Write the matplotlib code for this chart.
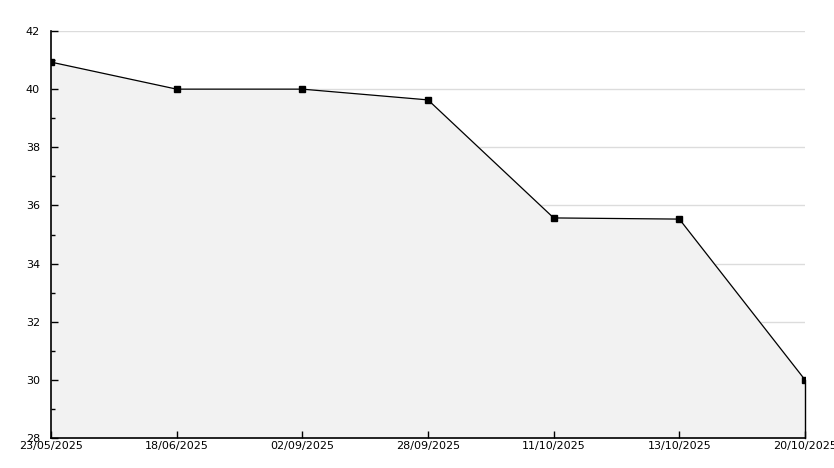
import matplotlib
matplotlib.use("Agg")
import matplotlib.pyplot as plt
from matplotlib.ticker import MultipleLocator

dates = ["23/05/2025", "18/06/2025", "02/09/2025", "28/09/2025",
         "11/10/2025", "13/10/2025", "20/10/2025"]
values = [40.93, 40.0, 40.0, 39.63, 35.57, 35.53, 30.0]
y_min, y_max = 28, 42

fig = plt.figure(figsize=(8.34, 4.68), dpi=100)
ax = fig.add_axes([51/834, 1-438/468, (805-51)/834, (438-31)/468])

x = list(range(len(dates)))
for gy in range(y_min + 2, y_max + 1, 2):
    ax.axhline(gy, color="#dcdcdc", lw=1, zorder=0)
ax.fill_between(x, values, y_min, color="#f2f2f2", zorder=1)
ax.plot(x, values, color="black", lw=0.9, marker="s", markersize=4, zorder=3)
ax.plot([x[-1], x[-1]], [y_min, values[-1]], color="black", lw=1, zorder=3,
        clip_on=False)

ax.set_xlim(0, len(dates)-1)
ax.set_ylim(y_min, y_max)
ax.set_xticks(x)
ax.set_xticklabels(dates)
ax.yaxis.set_major_locator(MultipleLocator(2))
ax.yaxis.set_minor_locator(MultipleLocator(1))
ax.set_axisbelow(False)
for s in ["top", "right"]:
    ax.spines[s].set_visible(False)
for s in ["left", "bottom"]:
    ax.spines[s].set_linewidth(1.2)
    ax.spines[s].set_zorder(4)
ax.tick_params(axis="both", which="major", direction="in", length=5, width=1, labelsize=8)
ax.tick_params(axis="y", which="minor", direction="in", length=3, width=1)
ax.tick_params(axis="x", pad=2)
ax.tick_params(axis="y", pad=8)

fig.savefig("out.png", dpi=100)
